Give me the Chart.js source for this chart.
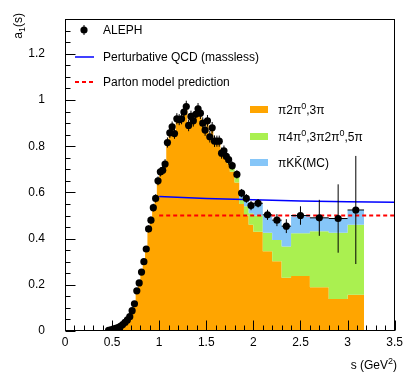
<!DOCTYPE html>
<html>
<head>
<meta charset="utf-8">
<script src="https://cdn.jsdelivr.net/npm/chart.js@4.4.1/dist/chart.umd.min.js"></script>
<style>
  body { margin: 0; background: #fff; }
  #wrap { width: 407px; height: 375px; }
</style>
</head>
<body>
<div id="wrap"><canvas id="a1Chart" width="407" height="375"></canvas></div>
<script>
// bin edges in s (GeV^2)
const binEdges = [0.45, 0.475, 0.5, 0.525, 0.55, 0.575, 0.6, 0.625, 0.65, 0.675,
  0.7, 0.725, 0.75, 0.775, 0.8, 0.825, 0.85, 0.875, 0.9, 0.925,
  0.95, 0.975, 1.0, 1.025, 1.05, 1.075, 1.1, 1.125, 1.15, 1.175,
  1.2, 1.225, 1.25, 1.275, 1.3, 1.325, 1.35, 1.375, 1.4, 1.425,
  1.45, 1.475, 1.5, 1.525, 1.55, 1.575, 1.6, 1.625, 1.65, 1.675,
  1.7, 1.725, 1.75, 1.8, 1.85, 1.9, 1.95, 2.0, 2.1, 2.2,
  2.3, 2.4, 2.6, 2.8, 3.0, 3.175];

// ALEPH a1(s) spectral function
const aleph = [0.003, 0.005, 0.008, 0.011, 0.015, 0.020, 0.028, 0.037, 0.048, 0.062,
  0.088, 0.118, 0.174, 0.208, 0.255, 0.300, 0.355, 0.442, 0.480, 0.534,
  0.574, 0.650, 0.689, 0.696, 0.723, 0.816, 0.858, 0.884, 0.855, 0.919,
  0.915, 0.919, 0.948, 0.972, 0.890, 0.929, 0.910, 0.938, 0.962, 0.943,
  0.900, 0.870, 0.910, 0.841, 0.880, 0.822, 0.822, 0.822, 0.770, 0.780,
  0.756, 0.742, 0.716, 0.678, 0.597, 0.574, 0.543, 0.553, 0.503, 0.480,
  0.454, 0.500, 0.490, 0.487, 0.524];
const alephErr = [0.002, 0.002, 0.003, 0.003, 0.003, 0.004, 0.004, 0.005, 0.005, 0.006,
  0.007, 0.008, 0.009, 0.010, 0.011, 0.012, 0.013, 0.015, 0.016, 0.017,
  0.018, 0.019, 0.020, 0.020, 0.021, 0.022, 0.022, 0.023, 0.023, 0.024,
  0.024, 0.024, 0.025, 0.025, 0.025, 0.025, 0.025, 0.025, 0.025, 0.025,
  0.025, 0.025, 0.025, 0.025, 0.025, 0.025, 0.024, 0.024, 0.024, 0.023,
  0.023, 0.022, 0.018, 0.018, 0.018, 0.019, 0.020, 0.018, 0.022, 0.026,
  0.030, 0.040, 0.078, 0.148, 0.234];

// channel contributions per bin
const pi3 = [0.003, 0.005, 0.008, 0.011, 0.015, 0.020, 0.028, 0.037, 0.048, 0.062,
  0.088, 0.118, 0.174, 0.208, 0.255, 0.300, 0.355, 0.442, 0.480, 0.534,
  0.574, 0.650, 0.689, 0.696, 0.723, 0.816, 0.858, 0.884, 0.855, 0.919,
  0.915, 0.919, 0.948, 0.972, 0.890, 0.929, 0.910, 0.938, 0.962, 0.943,
  0.900, 0.870, 0.910, 0.841, 0.876, 0.816, 0.814, 0.812, 0.758, 0.766,
  0.740, 0.724, 0.690, 0.643, 0.550, 0.500, 0.460, 0.430, 0.345, 0.302,
  0.231, 0.238, 0.189, 0.139, 0.157];
const pi5 = [0, 0, 0, 0, 0, 0, 0, 0, 0, 0,
  0, 0, 0, 0, 0, 0, 0, 0, 0, 0,
  0, 0, 0, 0, 0, 0, 0, 0, 0, 0,
  0, 0, 0, 0, 0, 0, 0, 0, 0, 0,
  0, 0, 0, 0, 0.004, 0.006, 0.008, 0.010, 0.012, 0.014,
  0.016, 0.018, 0.020, 0.025, 0.025, 0.040, 0.050, 0.070, 0.080, 0.092,
  0.135, 0.185, 0.243, 0.286, 0.303];
const kkpi = [0, 0, 0, 0, 0, 0, 0, 0, 0, 0,
  0, 0, 0, 0, 0, 0, 0, 0, 0, 0,
  0, 0, 0, 0, 0, 0, 0, 0, 0, 0,
  0, 0, 0, 0, 0, 0, 0, 0, 0, 0,
  0, 0, 0, 0, 0, 0, 0, 0, 0, 0,
  0, 0, 0.006, 0.010, 0.022, 0.034, 0.033, 0.053, 0.078, 0.086,
  0.088, 0.077, 0.058, 0.062, 0.064];

// theory curves
const qcdS = [1.0, 1.5, 2.0, 2.5, 3.0, 3.5];
const qcdA1 = [0.582, 0.574, 0.568, 0.563, 0.560, 0.557];
const partonS = [1.0, 3.5];
const partonA1 = [0.5, 0.5];

const FONT = '"Liberation Sans", Arial, sans-serif';

// stacked step outlines (left edge of each bin, drop to 0 at the last edge)
function steps(vals) {
  return binEdges.map((e, i) => ({ x: e, y: i < vals.length ? vals[i] : 0 }));
}
const stack1 = pi3.slice();
const stack2 = pi3.map((v, i) => v + pi5[i]);
const stack3 = stack2.map((v, i) => v + kkpi[i]);

const alephPts = aleph.map((v, i) => ({ x: (binEdges[i] + binEdges[i + 1]) / 2, y: v }));

function richText(ctx, parts, x, y, size, align) {
  const fontFor = p => (p[1] ? Math.round(size * 0.72) : size) + 'px ' + FONT;
  let w = 0;
  parts.forEach(p => { ctx.font = fontFor(p); w += ctx.measureText(p[0]).width; });
  let cx = align === 'right' ? x - w : x;
  ctx.textAlign = 'left';
  ctx.textBaseline = 'alphabetic';
  parts.forEach(p => {
    ctx.font = fontFor(p);
    const dy = p[1] === 'sup' ? -size * 0.42 : (p[1] === 'sub' ? size * 0.28 : 0);
    ctx.fillText(p[0], cx, y + dy);
    cx += ctx.measureText(p[0]).width;
  });
}

const errorBars = {
  id: 'errorBars',
  afterDatasetsDraw(chart) {
    const { ctx, scales: { x, y } } = chart;
    ctx.save();
    ctx.strokeStyle = '#000';
    ctx.lineWidth = 1;
    ctx.beginPath();
    for (let i = 0; i < aleph.length; i++) {
      const cx = x.getPixelForValue((binEdges[i] + binEdges[i + 1]) / 2);
      const cy = y.getPixelForValue(aleph[i]);
      ctx.moveTo(cx, y.getPixelForValue(aleph[i] - alephErr[i]));
      ctx.lineTo(cx, y.getPixelForValue(aleph[i] + alephErr[i]));
      ctx.moveTo(x.getPixelForValue(binEdges[i]), cy);
      ctx.lineTo(x.getPixelForValue(binEdges[i + 1]), cy);
    }
    ctx.stroke();
    ctx.restore();
  }
};

// ROOT style frame, inward ticks, legends and axis titles
const decorations = {
  id: 'decorations',
  afterDraw(chart) {
    const { ctx, chartArea: a, scales: { x, y } } = chart;
    ctx.save();
    ctx.strokeStyle = '#000';
    ctx.lineWidth = 1;
    const L = Math.round(a.left) + 0.5, B = Math.round(a.bottom) - 0.5;
    const R = Math.round(a.right) - 0.5, T = Math.round(a.top) + 0.5;
    ctx.strokeRect(L, T, R - L, B - T);
    ctx.beginPath();
    for (let k = 0; k <= 35; k++) {
      const px = Math.round(x.getPixelForValue(k / 10)) + 0.5;
      ctx.moveTo(px, B);
      ctx.lineTo(px, B - (k % 5 === 0 ? 10 : 5));
    }
    for (let k = 0; k <= 27; k++) {
      const py = Math.round(y.getPixelForValue(k * 0.05)) + 0.5;
      ctx.moveTo(L, py);
      ctx.lineTo(L + (k % 4 === 0 ? 10 : 5), py);
    }
    ctx.stroke();

    ctx.fillStyle = '#000';
    // legend 1
    ctx.beginPath();
    ctx.arc(84, 30, 3.6, 0, Math.PI * 2);
    ctx.fill();
    ctx.beginPath();
    ctx.moveTo(84, 25); ctx.lineTo(84, 35);
    ctx.stroke();
    ctx.strokeStyle = '#0000ff';
    ctx.lineWidth = 1.5;
    ctx.beginPath();
    ctx.moveTo(75, 57); ctx.lineTo(94, 57);
    ctx.stroke();
    ctx.strokeStyle = '#ff0000';
    ctx.lineWidth = 2;
    ctx.setLineDash([4, 3]);
    ctx.beginPath();
    ctx.moveTo(75, 82); ctx.lineTo(96, 82);
    ctx.stroke();
    ctx.setLineDash([]);
    richText(ctx, [['ALEPH']], 103, 34, 12);
    richText(ctx, [['Perturbative QCD (massless)']], 103, 61, 12);
    richText(ctx, [['Parton model prediction']], 103, 86, 12);

    // legend 2
    ctx.fillStyle = '#ffa500';
    ctx.fillRect(250, 106, 18, 7);
    ctx.fillStyle = '#aaf050';
    ctx.fillRect(250, 133, 18, 7);
    ctx.fillStyle = '#86c6f8';
    ctx.fillRect(250, 159, 18, 7);
    ctx.fillStyle = '#000';
    richText(ctx, [['\u03c02\u03c0'], ['0', 'sup'], [',3\u03c0']], 278, 114, 12);
    richText(ctx, [['\u03c04\u03c0'], ['0', 'sup'], [',3\u03c02\u03c0'], ['0', 'sup'], [',5\u03c0']], 278, 141, 12);
    richText(ctx, [['\u03c0KK\u0304(MC)']], 278, 167, 12);

    // axis titles
    richText(ctx, [['s (GeV'], ['2', 'sup'], [')']], 397, 369, 12, 'right');
    ctx.translate(22, 13);
    ctx.rotate(-Math.PI / 2);
    richText(ctx, [['a'], ['1', 'sub'], ['(s)']], 0, 0, 12, 'right');
    ctx.restore();
  }
};

new Chart(document.getElementById('a1Chart'), {
  type: 'line',
  data: {
    datasets: [
      {
        data: steps(stack1), stepped: true, borderWidth: 0, pointRadius: 0,
        backgroundColor: '#ffa500', fill: 'origin', order: 5
      },
      {
        data: steps(stack2), stepped: true, borderWidth: 0, pointRadius: 0,
        backgroundColor: '#aaf050', fill: '-1', order: 4
      },
      {
        data: steps(stack3), stepped: true, borderWidth: 0, pointRadius: 0,
        backgroundColor: '#86c6f8', fill: '-1', order: 3
      },
      {
        data: qcdS.map((s, i) => ({ x: s, y: qcdA1[i] })),
        borderColor: '#0000ff', borderWidth: 1.5, pointRadius: 0, fill: false, order: 2
      },
      {
        data: partonS.map((s, i) => ({ x: s, y: partonA1[i] })),
        borderColor: '#ff0000', borderWidth: 2, borderDash: [4, 3], pointRadius: 0, fill: false, order: 1
      },
      {
        data: alephPts, showLine: false, pointRadius: 3.6, pointBackgroundColor: '#000',
        pointBorderWidth: 0, order: 0
      }
    ]
  },
  options: {
    responsive: false,
    animation: false,
    layout: { padding: { top: 13, right: 10, left: 0, bottom: 0 } },
    plugins: { legend: { display: false }, tooltip: { enabled: false } },
    scales: {
      x: {
        type: 'linear', min: 0, max: 3.5,
        grid: { display: false, drawTicks: false }, border: { display: false },
        ticks: {
          stepSize: 0.5, padding: 4, color: '#000', font: { family: FONT, size: 12 },
          callback: v => String(+v.toFixed(2))
        },
        afterFit: s => { s.height = 44; }
      },
      y: {
        min: 0, max: 1.35,
        grid: { display: false }, border: { display: false },
        ticks: {
          stepSize: 0.2, includeBounds: false, padding: 12, color: '#000',
          font: { family: FONT, size: 12 },
          callback: v => String(+v.toFixed(2))
        },
        afterFit: s => { s.width = 65; }
      }
    }
  },
  plugins: [errorBars, decorations]
});
</script>
</body>
</html>
